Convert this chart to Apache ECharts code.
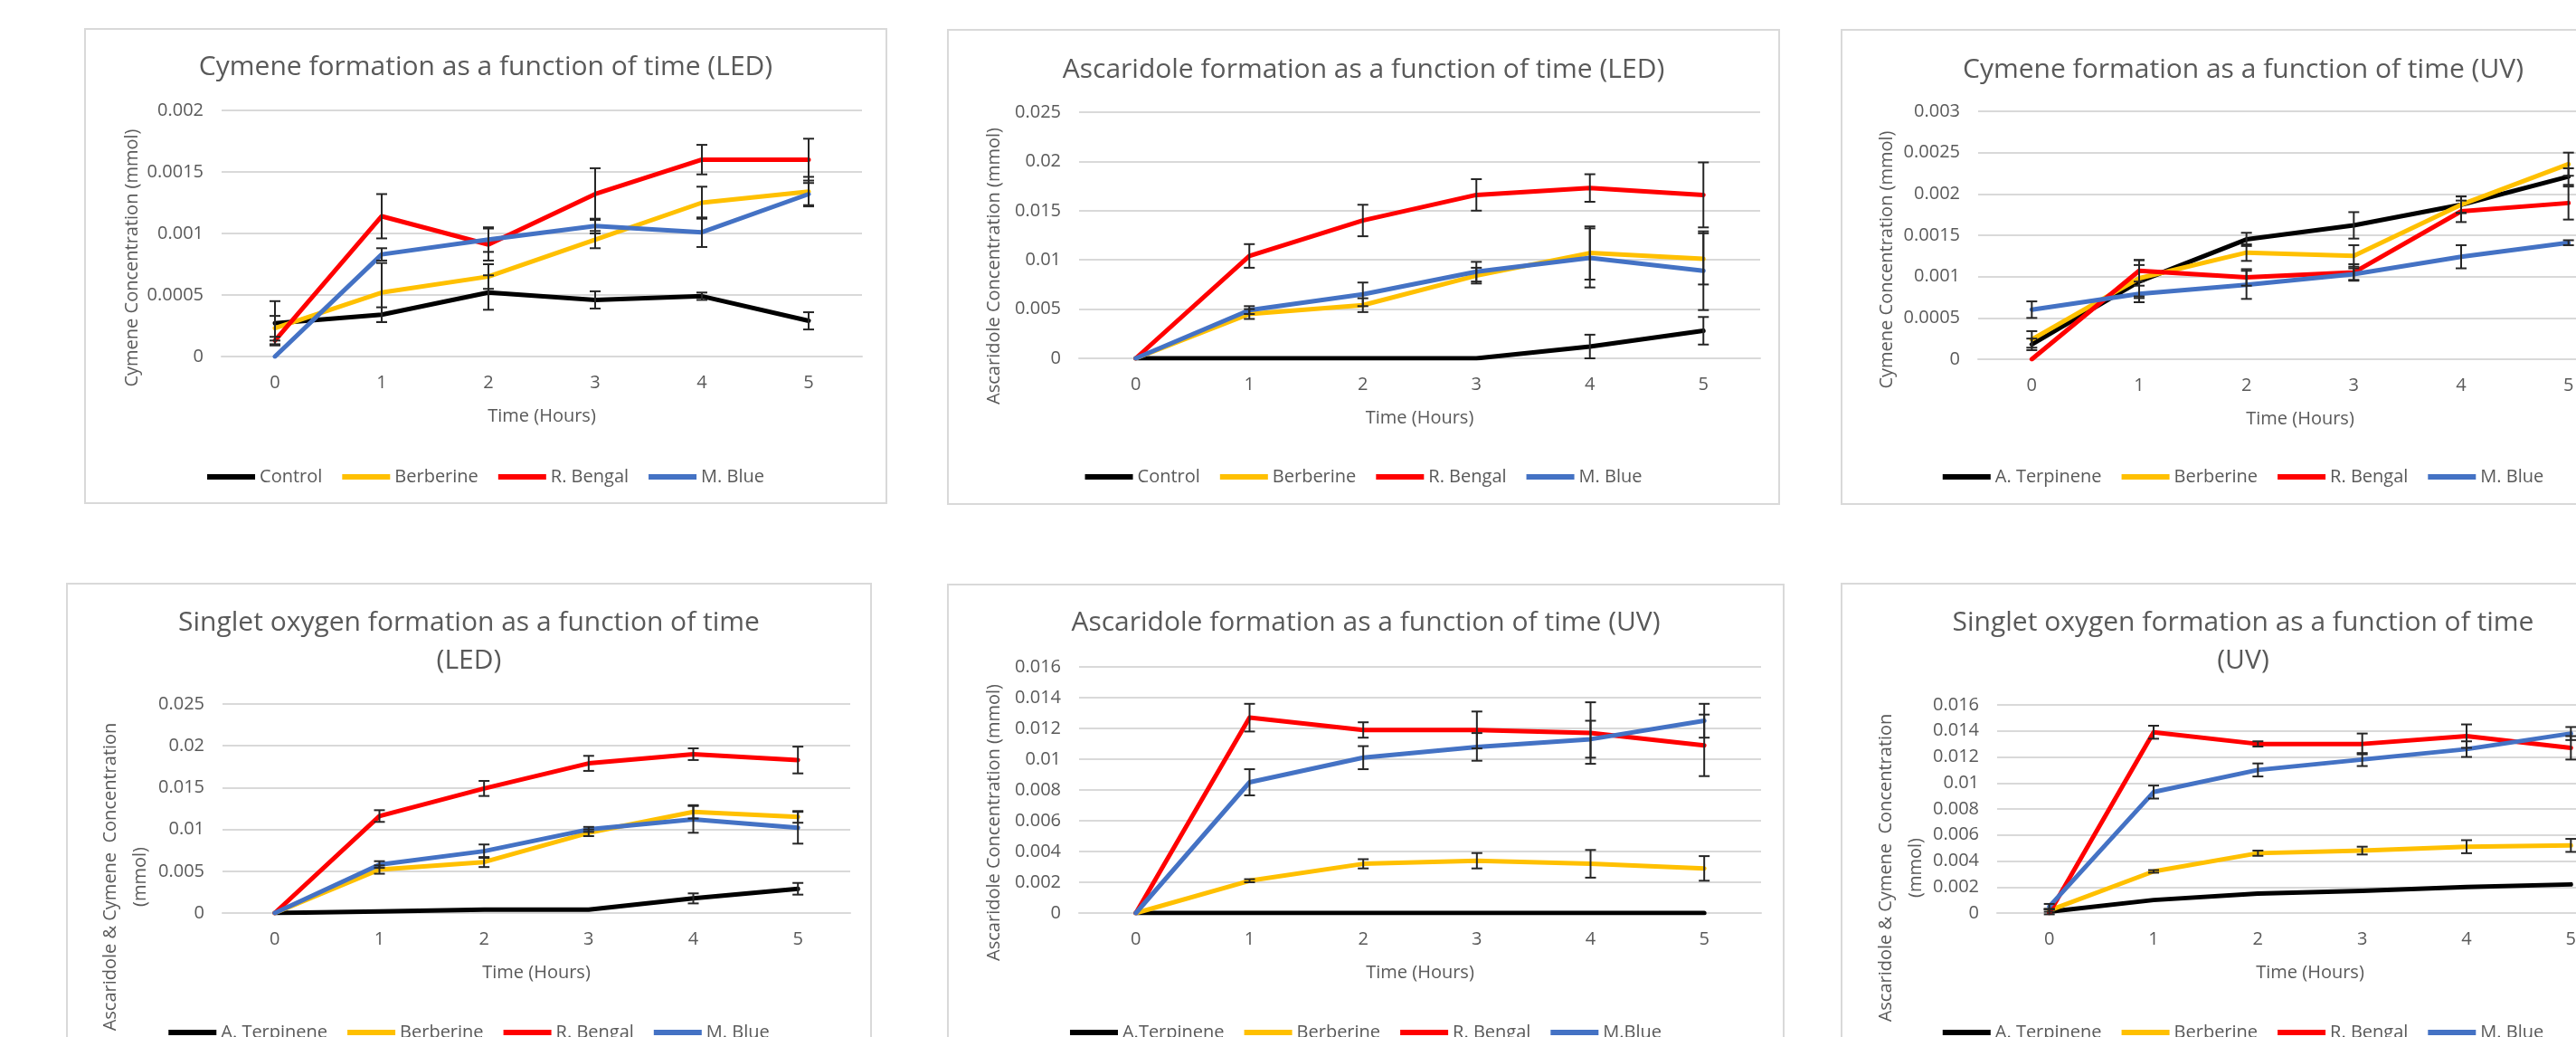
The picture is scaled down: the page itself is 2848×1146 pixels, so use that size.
<!DOCTYPE html>
<html>
<head>
<meta charset="utf-8">
<script src="https://cdn.jsdelivr.net/npm/echarts@6/dist/echarts.min.js"></script>
<style>
    body {
        margin: 0;
        background: #ffffff;
        width: 2848px;
        height: 1146px;
        overflow: hidden;
        position: relative;
    }
    .panel {
        position: absolute;
        box-sizing: border-box;
        border: 2px solid #d9d9d9;
        background: #ffffff;
    }
</style>
</head>
<body>
<div id="c1" class="panel" style="left:93px;top:31px;width:888px;height:526px"></div>
<div id="c2" class="panel" style="left:1047px;top:32px;width:921px;height:526px"></div>
<div id="c3" class="panel" style="left:2035px;top:32px;width:890px;height:526px"></div>
<div id="c4" class="panel" style="left:73px;top:644px;width:891px;height:540px"></div>
<div id="c5" class="panel" style="left:1047px;top:645px;width:926px;height:540px"></div>
<div id="c6" class="panel" style="left:2035px;top:644px;width:890px;height:540px"></div>
<script>
const hours = ['0', '1', '2', '3', '4', '5'];
const seriesColors = ['#000000', '#FFC000', '#FF0000', '#4472C4'];

// Cymene formation (LED)
const cymLedNames = ['Control', 'Berberine', 'R. Bengal', 'M. Blue'];
const cymLedControl = [0.00027, 0.00034, 0.00052, 0.00046, 0.00049, 0.00029];
const cymLedBerberine = [0.00023, 0.00052, 0.00065, 0.00095, 0.00125, 0.00134];
const cymLedBengal = [0.00013, 0.00114, 0.00091, 0.00132, 0.0016, 0.0016];
const cymLedBlue = [0, 0.00083, 0.00095, 0.00106, 0.00101, 0.00132];
const cymLedControlErr = [0.00018, 0.00006, 0.00014, 0.00007, 0.00003, 0.00007];
const cymLedBerberineErr = [0.0001, 0.00024, 0.0001, 0.00007, 0.00013, 0.00012];
const cymLedBengalErr = [0.00003, 0.00018, 0.00013, 0.00021, 0.00012, 0.00017];
const cymLedBlueErr = [0, 0.00005, 0.0001, 0.00006, 0.00012, 0.00009];

// Ascaridole formation (LED)
const ascLedNames = ['Control', 'Berberine', 'R. Bengal', 'M. Blue'];
const ascLedControl = [0, 0, 0, 0, 0.0012, 0.0028];
const ascLedBerberine = [0, 0.0045, 0.0054, 0.0084, 0.0107, 0.0101];
const ascLedBengal = [0, 0.0104, 0.014, 0.0166, 0.0173, 0.0166];
const ascLedBlue = [0, 0.0049, 0.0065, 0.0088, 0.0102, 0.0089];
const ascLedControlErr = [0, 0, 0, 0, 0.0012, 0.0014];
const ascLedBerberineErr = [0, 0.0005, 0.0007, 0.0008, 0.0027, 0.0026];
const ascLedBengalErr = [0, 0.0012, 0.0016, 0.0016, 0.0014, 0.0033];
const ascLedBlueErr = [0, 0.0004, 0.0012, 0.001, 0.003, 0.004];

// Cymene formation (UV)
const cymUvNames = ['A. Terpinene', 'Berberine', 'R. Bengal', 'M. Blue'];
const cymUvTerpinene = [0.00018, 0.00094, 0.00145, 0.00162, 0.00187, 0.00221];
const cymUvBerberine = [0.00024, 0.00098, 0.00129, 0.00125, 0.00187, 0.00236];
const cymUvBengal = [0, 0.00107, 0.00099, 0.00105, 0.00179, 0.00189];
const cymUvBlue = [0.0006, 0.00079, 0.0009, 0.00103, 0.00124, 0.00141];
const cymUvTerpineneErr = [0.00007, 0.0002, 0.00008, 0.00016, 0.0001, 0.0001];
const cymUvBerberineErr = [0.0001, 0.00022, 0.0001, 0.00013, 0.0001, 0.00014];
const cymUvBengalErr = [0, 0.00013, 0.0001, 0.0001, 0.00013, 0.0002];
const cymUvBlueErr = [0.0001, 0.0001, 0.00017, 0.00007, 0.00014, 0.00003];

// Singlet oxygen formation (LED)
const soLedNames = ['A. Terpinene', 'Berberine', 'R. Bengal', 'M. Blue'];
const soLedTerpinene = [0, 0.0002, 0.0004, 0.0004, 0.00175, 0.0029];
const soLedBerberine = [0, 0.0052, 0.0061, 0.0096, 0.0121, 0.0115];
const soLedBengal = [0, 0.0116, 0.0149, 0.0179, 0.019, 0.0183];
const soLedBlue = [0, 0.0058, 0.0074, 0.01, 0.0112, 0.0102];
const soLedTerpineneErr = [0, 0, 0, 0, 0.0006, 0.0007];
const soLedBerberineErr = [0, 0.0005, 0.0006, 0.0004, 0.0008, 0.0007];
const soLedBengalErr = [0, 0.0007, 0.0009, 0.0009, 0.0007, 0.0016];
const soLedBlueErr = [0, 0.0004, 0.0008, 0.0003, 0.0016, 0.0019];

// Ascaridole formation (UV)
const ascUvNames = ['A.Terpinene', 'Berberine', 'R. Bengal', 'M.Blue'];
const ascUvTerpinene = [0, 0, 0, 0, 0, 0];
const ascUvBerberine = [0, 0.0021, 0.0032, 0.0034, 0.0032, 0.0029];
const ascUvBengal = [0, 0.0127, 0.0119, 0.0119, 0.0117, 0.0109];
const ascUvBlue = [0, 0.0085, 0.0101, 0.0108, 0.0113, 0.0125];
const ascUvTerpineneErr = [0, 0, 0, 0, 0, 0];
const ascUvBerberineErr = [0, 0.0001, 0.0003, 0.0005, 0.0009, 0.0008];
const ascUvBengalErr = [0, 0.0009, 0.0005, 0.0012, 0.002, 0.002];
const ascUvBlueErr = [0, 0.00085, 0.00075, 0.0009, 0.0012, 0.0011];

// Singlet oxygen formation (UV)
const soUvNames = ['A. Terpinene', 'Berberine', 'R. Bengal', 'M. Blue'];
const soUvTerpinene = [0.0001, 0.001, 0.0015, 0.0017, 0.002, 0.0022];
const soUvBerberine = [0.0002, 0.0032, 0.0046, 0.0048, 0.0051, 0.0052];
const soUvBengal = [0, 0.0139, 0.013, 0.013, 0.0136, 0.0127];
const soUvBlue = [0.0005, 0.0093, 0.011, 0.0118, 0.0126, 0.0138];
const soUvTerpineneErr = [0.0002, 0, 0, 0, 0, 0];
const soUvBerberineErr = [0.0001, 0.0001, 0.0002, 0.0003, 0.0005, 0.0005];
const soUvBengalErr = [0, 0.0005, 0.0002, 0.0008, 0.0009, 0.0009];
const soUvBlueErr = [0.0002, 0.0005, 0.0005, 0.0005, 0.0006, 0.0005];

const FONT = 'Open Sans';
const TEXT_COLOR = '#595959';
const GRID_COLOR = '#d9d9d9';

// 误差线 custom series
function errorSeries(name, vals, errs) {
    const data = [];
    vals.forEach((v, i) => {
        if (errs[i] > 0) data.push([i, v - errs[i], v + errs[i]]);
    });
    return {
        type: 'custom',
        name: name + ' err',
        z: 5,
        silent: true,
        encode: {x: 0, y: [1, 2]},
        data: data,
        renderItem: function (params, api) {
            const lo = api.coord([api.value(0), api.value(1)]);
            const hi = api.coord([api.value(0), api.value(2)]);
            const w = 6;
            const st = {stroke: '#262626', lineWidth: 2};
            return {
                type: 'group',
                children: [
                    {type: 'line', shape: {x1: lo[0], y1: lo[1], x2: hi[0], y2: hi[1]}, style: st},
                    {type: 'line', shape: {x1: lo[0] - w, y1: lo[1], x2: lo[0] + w, y2: lo[1]}, style: st},
                    {type: 'line', shape: {x1: hi[0] - w, y1: hi[1], x2: hi[0] + w, y2: hi[1]}, style: st}
                ]
            };
        }
    };
}

function makeChart(id, cfg) {
    const chart = echarts.init(document.getElementById(id), null, {renderer: 'canvas'});
    const series = [];
    cfg.names.forEach((n, i) => {
        series.push({
            type: 'line',
            name: n,
            data: cfg.values[i],
            symbol: 'none',
            z: 2 + i * 0.1,
            lineStyle: {width: 5, color: seriesColors[i], cap: 'round', join: 'round'},
            itemStyle: {color: seriesColors[i]}
        });
    });
    cfg.names.forEach((n, i) => {
        series.push(errorSeries(n, cfg.values[i], cfg.errors[i]));
    });
    const option = {
        animation: false,
        title: {
            text: cfg.title,
            left: 'center',
            top: cfg.titleTop,
            padding: 0,
            textStyle: {fontFamily: FONT, fontSize: 30, fontWeight: 'normal', color: TEXT_COLOR, lineHeight: 42}
        },
        legend: {
            data: cfg.names,
            icon: 'rect',
            itemWidth: 53,
            itemHeight: 6,
            itemGap: 22,
            left: 'center',
            top: cfg.legendTop,
            textStyle: {fontFamily: FONT, fontSize: 20, color: TEXT_COLOR}
        },
        grid: cfg.grid,
        xAxis: {
            type: 'category',
            data: hours,
            boundaryGap: true,
            name: 'Time (Hours)',
            nameLocation: 'middle',
            nameGap: 56,
            nameTextStyle: {fontFamily: FONT, fontSize: 20, color: TEXT_COLOR},
            axisLine: {lineStyle: {color: GRID_COLOR, width: 2}},
            axisTick: {show: false},
            axisLabel: {fontFamily: FONT, fontSize: 20, color: TEXT_COLOR, margin: 19}
        },
        yAxis: {
            type: 'value',
            min: 0,
            max: cfg.yMax,
            interval: cfg.yStep,
            axisLine: {show: false},
            axisTick: {show: false},
            splitLine: {lineStyle: {color: GRID_COLOR, width: 2}},
            axisLabel: {fontFamily: FONT, fontSize: 20, color: TEXT_COLOR, margin: 20}
        },
        graphic: [{
            type: 'text',
            x: cfg.yNameX,
            y: cfg.yNameY,
            rotation: Math.PI / 2,
            style: {
                text: cfg.yName,
                fontFamily: FONT,
                fontSize: 20,
                lineHeight: 33,
                fill: TEXT_COLOR,
                align: 'center',
                verticalAlign: 'middle'
            }
        }],
        series: series
    };
    chart.setOption(option);
    return chart;
}

makeChart('c1', {
    title: 'Cymene formation as a function of time (LED)',
    titleTop: 20,
    yName: 'Cymene Concentration (mmol)',
    yNameX: 51, yNameY: 252,
    yMax: 0.002, yStep: 0.0005,
    grid: {left: 150, top: 89, width: 708, height: 272},
    legendTop: 479,
    names: cymLedNames,
    values: [cymLedControl, cymLedBerberine, cymLedBengal, cymLedBlue],
    errors: [cymLedControlErr, cymLedBerberineErr, cymLedBengalErr, cymLedBlueErr]
});

makeChart('c2', {
    title: 'Ascaridole formation as a function of time (LED)',
    titleTop: 22,
    yName: 'Ascaridole Concentration (mmol)',
    yNameX: 50, yNameY: 260,
    yMax: 0.025, yStep: 0.005,
    grid: {left: 144, top: 90, width: 753, height: 272},
    legendTop: 478,
    names: ascLedNames,
    values: [ascLedControl, ascLedBerberine, ascLedBengal, ascLedBlue],
    errors: [ascLedControlErr, ascLedBerberineErr, ascLedBengalErr, ascLedBlueErr]
});

makeChart('c3', {
    title: 'Cymene formation as a function of time (UV)',
    titleTop: 22,
    yName: 'Cymene Concentration (mmol)',
    yNameX: 49, yNameY: 253,
    yMax: 0.003, yStep: 0.0005,
    grid: {left: 150, top: 89, width: 712, height: 274},
    legendTop: 478,
    names: cymUvNames,
    values: [cymUvTerpinene, cymUvBerberine, cymUvBengal, cymUvBlue],
    errors: [cymUvTerpineneErr, cymUvBerberineErr, cymUvBengalErr, cymUvBlueErr]
});

makeChart('c4', {
    title: 'Singlet oxygen formation as a function of time\n(LED)',
    titleTop: 21,
    yName: 'Ascaridole & Cymene  Concentration\n(mmol)',
    yNameX: 64, yNameY: 323,
    yMax: 0.025, yStep: 0.005,
    grid: {left: 171, top: 132, width: 694, height: 231},
    legendTop: 480,
    names: soLedNames,
    values: [soLedTerpinene, soLedBerberine, soLedBengal, soLedBlue],
    errors: [soLedTerpineneErr, soLedBerberineErr, soLedBengalErr, soLedBlueErr]
});

makeChart('c5', {
    title: 'Ascaridole formation as a function of time (UV)',
    titleTop: 20,
    yName: 'Ascaridole Concentration (mmol)',
    yNameX: 50, yNameY: 262,
    yMax: 0.016, yStep: 0.002,
    grid: {left: 144, top: 90, width: 754, height: 272},
    legendTop: 479,
    names: ascUvNames,
    values: [ascUvTerpinene, ascUvBerberine, ascUvBengal, ascUvBlue],
    errors: [ascUvTerpineneErr, ascUvBerberineErr, ascUvBengalErr, ascUvBlueErr]
});

makeChart('c6', {
    title: 'Singlet oxygen formation as a function of time\n(UV)',
    titleTop: 21,
    yName: 'Ascaridole & Cymene  Concentration\n(mmol)',
    yNameX: 65, yNameY: 313,
    yMax: 0.016, yStep: 0.002,
    grid: {left: 171, top: 133, width: 692, height: 230},
    legendTop: 480,
    names: soUvNames,
    values: [soUvTerpinene, soUvBerberine, soUvBengal, soUvBlue],
    errors: [soUvTerpineneErr, soUvBerberineErr, soUvBengalErr, soUvBlueErr]
});
</script>
</body>
</html>
